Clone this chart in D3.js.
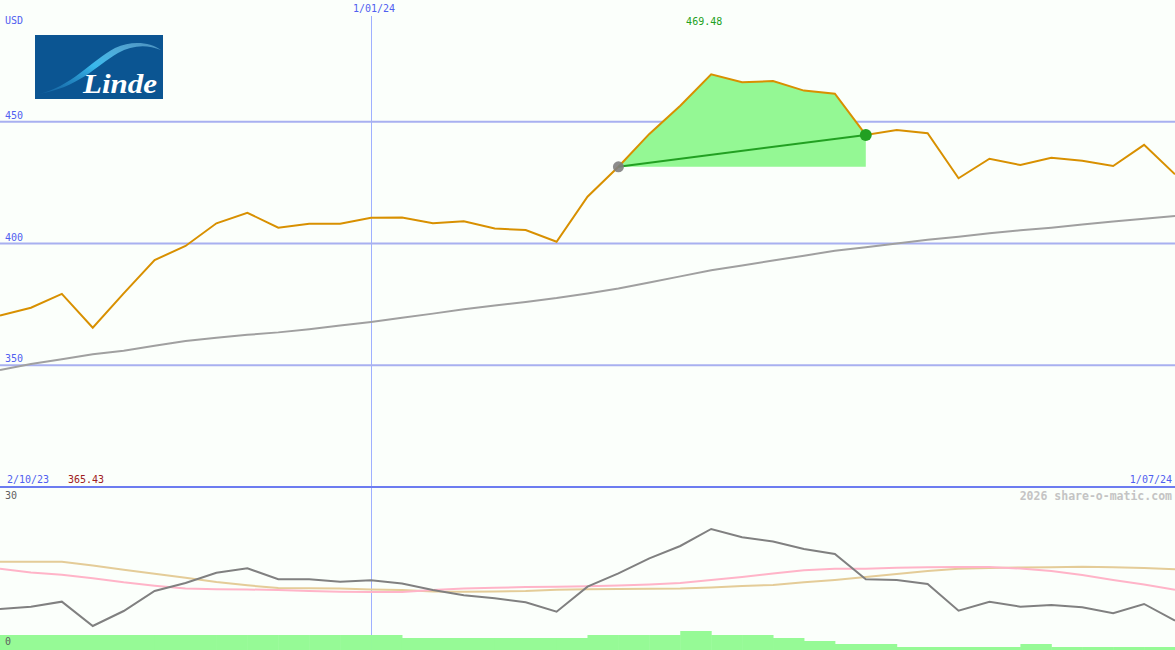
<!DOCTYPE html>
<html>
<head>
<meta charset="utf-8">
<script src="https://cdn.jsdelivr.net/npm/d3@7/dist/d3.min.js"></script>
<style>
  html, body { margin: 0; padding: 0; background: #fbfffb; }
  svg { display: block; }
  text { font-family: "DejaVu Sans Mono", monospace; }
</style>
</head>
<body>
<svg id="chart" width="1175" height="650"></svg>
<script>
// ---------- DATA ----------
const startLabel = "2/10/23";
const endLabel = "1/07/24";
const midDateLabel = "1/01/24";
const midDateIndex = 12;
const currency = "USD";
const priceTicks = [350, 400, 450];
const highLabel = "469.48";
const lowLabel = "365.43";
const lowerTicks = ["30", "0"];
const watermark = "2026 share-o-matic.com";

// weekly closes
const price = [370.4, 373.6, 379.3, 365.43, 379.5, 393.2, 399.0, 408.3, 412.6, 406.5,
  408.1, 408.1, 410.6, 410.7, 408.3, 409.1, 406.2, 405.5, 400.7, 419.2,
  431.5, 445.0, 456.6, 469.48, 466.2, 466.7, 462.8, 461.5, 444.6, 446.6,
  445.3, 426.8, 434.8, 432.2, 435.2, 434.0, 431.8, 440.5, 428.4];
// long moving average
const movingAvg = [348.0, 350.5, 352.5, 354.5, 356.0, 358.0, 360.0, 361.3, 362.5, 363.5,
  364.8, 366.3, 367.8, 369.5, 371.2, 373.0, 374.5, 376.0, 377.6, 379.5,
  381.5, 384.0, 386.5, 389.0, 391.0, 393.0, 395.0, 397.0, 398.5, 400.0,
  401.5, 402.8, 404.2, 405.4, 406.5, 407.8, 409.0, 410.2, 411.3];
// highlighted rise segment (start / end index)
const segStart = 20;
const segEnd = 28;
// lower panel indicators (0-30 scale)
const indicator = [7.69, 8.12, 9.06, 4.5, 7.31, 11.06, 12.56, 14.49, 15.32, 13.26,
  13.26, 12.81, 13.07, 12.47, 11.25, 10.26, 9.69, 8.94, 7.18, 11.87,
  14.38, 17.19, 19.5, 22.69, 21.13, 20.34, 18.94, 18.0, 13.26, 13.13,
  12.38, 7.37, 9.06, 8.12, 8.44, 8.01, 6.88, 8.63, 5.49];
const pinkLine = [15.24, 14.53, 14.12, 13.46, 12.69, 12.06, 11.53, 11.38, 11.34, 11.25,
  11.06, 10.93, 10.88, 10.88, 11.25, 11.53, 11.66, 11.81, 11.87, 11.94,
  12.09, 12.28, 12.56, 13.13, 13.69, 14.34, 14.96, 15.24, 15.24, 15.43,
  15.53, 15.56, 15.56, 15.28, 14.81, 14.06, 13.13, 12.28, 11.31];
const tanLine = [16.56, 16.56, 16.56, 15.84, 15.06, 14.31, 13.56, 12.75, 12.13, 11.63,
  11.57, 11.53, 11.34, 11.25, 10.97, 10.93, 10.97, 11.06, 11.31, 11.38,
  11.44, 11.48, 11.53, 11.72, 12.0, 12.19, 12.69, 13.13, 13.69, 14.25,
  14.81, 15.24, 15.38, 15.47, 15.53, 15.6, 15.51, 15.38, 15.13];
// volume (relative units)
const volume = [5, 5, 5, 5, 5, 5, 5, 5, 5, 5,
  5, 5, 5, 4, 4, 4, 4, 4, 4, 5,
  5, 5, 6.33, 5, 5, 4, 3, 2, 2, 1,
  1, 1, 1, 2, 1, 1, 1, 1];

// ---------- LAYOUT ----------
const W = 1175, H = 650;
const mainBottom = 487;
const svg = d3.select("#chart");

const n = price.length;
const x = d3.scaleLinear().domain([0, n - 1]).range([0, W]);
const y = d3.scaleLinear().domain([300, 500]).range([mainBottom, 0]);
const yL = d3.scaleLinear().domain([0, 30]).range([650, 490]);
const yV = d3.scaleLinear().domain([0, 50]).range([650, 500]);

svg.append("rect").attr("width", W).attr("height", H).attr("fill", "#fbfffb");

const defs = svg.append("defs");
defs.append("clipPath").attr("id", "mainClip")
  .append("rect").attr("x", 0).attr("y", 0).attr("width", W).attr("height", mainBottom - 1);

// vertical date gridline
const gx = Math.round(x(midDateIndex)) + 0.5;
svg.append("line")
  .attr("x1", gx).attr("x2", gx)
  .attr("y1", 16).attr("y2", 650)
  .attr("stroke", "#9fb0ff").attr("stroke-width", 1);

// horizontal price gridlines
svg.append("g").selectAll("line").data(priceTicks).join("line")
  .attr("x1", 0).attr("x2", W)
  .attr("y1", d => y(d)).attr("y2", d => y(d))
  .attr("stroke", "#a8b0f0").attr("stroke-width", 2);

svg.append("g").selectAll("text").data(priceTicks).join("text")
  .attr("x", 5).attr("y", d => y(d) - 3)
  .attr("font-size", 10).attr("fill", "#5060f0")
  .text(d => d);

// panel separator
svg.append("line").attr("x1", 0).attr("x2", W).attr("y1", mainBottom).attr("y2", mainBottom)
  .attr("stroke", "#6c7cf0").attr("stroke-width", 2);

// ---------- LOGO ----------
const logo = svg.append("g");
const grad = defs.append("linearGradient").attr("id", "swoosh")
  .attr("x1", "0").attr("y1", "1").attr("x2", "1").attr("y2", "0");
grad.append("stop").attr("offset", "0").attr("stop-color", "#1a6fb0").attr("stop-opacity", 0.5);
grad.append("stop").attr("offset", "0.5").attr("stop-color", "#38b8ec");
grad.append("stop").attr("offset", "1").attr("stop-color", "#9fe4ff").attr("stop-opacity", 0.4);
logo.append("rect").attr("x", 35).attr("y", 35).attr("width", 128).attr("height", 64).attr("fill", "#0b5592");
logo.append("path")
  .attr("d", "M38,94 C70,88 92,60 115,48 C132,40 150,42 161,50 C147,44 132,45 118,53 C96,66 78,88 38,94 Z")
  .attr("fill", "url(#swoosh)");
logo.append("text").attr("x", 83).attr("y", 93)
  .attr("font-style", "italic").attr("font-weight", "bold")
  .attr("font-size", 28).attr("fill", "#ffffff")
  .attr("textLength", 74).attr("lengthAdjust", "spacingAndGlyphs")
  .style("font-family", "'Liberation Serif', 'DejaVu Serif', serif")
  .text("Linde");

// ---------- MAIN PANEL ----------
const main = svg.append("g").attr("clip-path", "url(#mainClip)");

const segIdx = d3.range(segStart, segEnd + 1);
const base = price[segStart];
main.append("path")
  .datum(segIdx)
  .attr("d", d3.area().x(i => x(i)).y0(y(base)).y1(i => y(price[i])))
  .attr("fill", "#94f894");

main.append("path")
  .datum(movingAvg)
  .attr("d", d3.line().x((d, i) => x(i)).y(d => y(d)))
  .attr("fill", "none").attr("stroke", "#a0a0a0").attr("stroke-width", 2);

main.append("path")
  .datum(price)
  .attr("d", d3.line().x((d, i) => x(i)).y(d => y(d)))
  .attr("fill", "none").attr("stroke", "#d89000").attr("stroke-width", 2);

main.append("line")
  .attr("x1", x(segStart)).attr("y1", y(price[segStart]))
  .attr("x2", x(segEnd)).attr("y2", y(price[segEnd]))
  .attr("stroke", "#22a022").attr("stroke-width", 2);

main.append("circle").attr("cx", x(segStart)).attr("cy", y(price[segStart])).attr("r", 5.5)
  .attr("fill", "#808080").attr("opacity", 0.9);
main.append("circle").attr("cx", x(segEnd)).attr("cy", y(price[segEnd])).attr("r", 6)
  .attr("fill", "#22a022");

// labels
svg.append("text").attr("x", 5).attr("y", 24).attr("font-size", 10).attr("fill", "#5060f0").text(currency);
svg.append("text").attr("x", x(midDateIndex) + 3).attr("y", 12).attr("text-anchor", "middle")
  .attr("font-size", 10).attr("fill", "#5060f0").text(midDateLabel);
const hiIdx = price.indexOf(d3.max(price));
svg.append("text").attr("x", x(hiIdx) - 7).attr("y", 25).attr("text-anchor", "middle")
  .attr("font-size", 10).attr("fill", "#22a022").text(highLabel);
svg.append("text").attr("x", 7).attr("y", 483).attr("font-size", 10).attr("fill", "#5060f0").text(startLabel);
svg.append("text").attr("x", 68).attr("y", 483).attr("font-size", 10).attr("fill", "#a02020").text(lowLabel);
svg.append("text").attr("x", 1172).attr("y", 483).attr("text-anchor", "end")
  .attr("font-size", 10).attr("fill", "#5060f0").text(endLabel);

// ---------- LOWER PANEL ----------
const volIdx = d3.range(volume.length);
svg.append("g").selectAll("rect").data(volIdx).join("rect")
  .attr("x", i => x(i)).attr("width", i => x(i + 1) - x(i) + 0.5)
  .attr("y", i => Math.round(yV(volume[i])))
  .attr("height", i => 650 - Math.round(yV(volume[i])))
  .attr("fill", "#96fa96");

const lineL = d3.line().x((d, i) => x(i)).y(d => yL(d));
svg.append("path").datum(tanLine).attr("d", lineL)
  .attr("fill", "none").attr("stroke", "#e4cc98").attr("stroke-width", 2);
svg.append("path").datum(pinkLine).attr("d", lineL)
  .attr("fill", "none").attr("stroke", "#ffb4c8").attr("stroke-width", 2);
svg.append("path").datum(indicator).attr("d", lineL)
  .attr("fill", "none").attr("stroke", "#808080").attr("stroke-width", 2);

svg.append("text").attr("x", 5).attr("y", 499).attr("font-size", 10).attr("fill", "#606060").text(lowerTicks[0]);
svg.append("text").attr("x", 5).attr("y", 645).attr("font-size", 10).attr("fill", "#606060").text(lowerTicks[1]);
svg.append("text").attr("x", 1172).attr("y", 500).attr("text-anchor", "end")
  .attr("font-size", 11.5).attr("font-weight", "bold").attr("fill", "#c4c4c4").text(watermark);
</script>
</body>
</html>
